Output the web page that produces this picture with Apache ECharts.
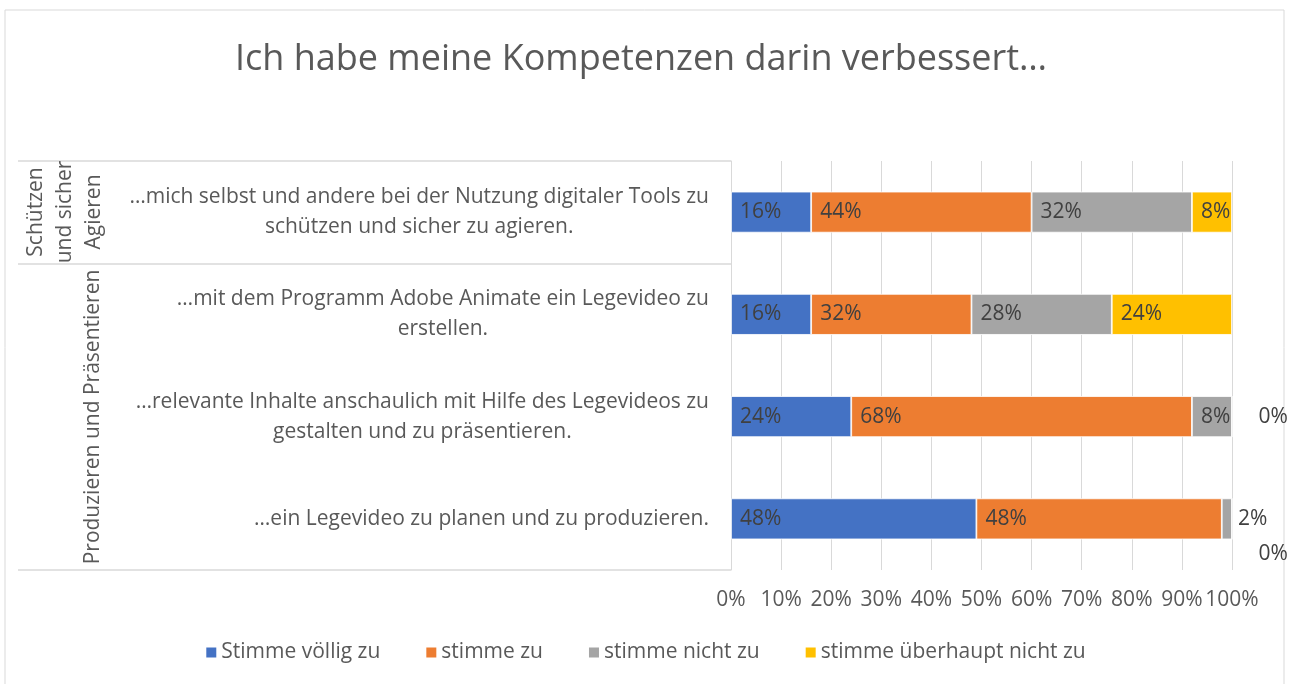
<!DOCTYPE html>
<html>
<head>
<meta charset="utf-8">
<script src="https://cdn.jsdelivr.net/npm/echarts@6/dist/echarts.min.js"></script>
<style>
  html, body { margin: 0; padding: 0; background: #fff; }
  #chart { width: 1290px; height: 684px; }
</style>
</head>
<body>
<div id="chart"></div>
<script>
// Aussagen (oben nach unten)
var statements = [
  '…mich selbst und andere bei der Nutzung digitaler Tools zu\nschützen und sicher zu agieren.',
  '…mit dem Programm Adobe Animate ein Legevideo zu\nerstellen.',
  '…relevante Inhalte anschaulich mit Hilfe des Legevideos zu\ngestalten und zu präsentieren.',
  '…ein Legevideo zu planen und zu produzieren.'
];
var groupNames = ['Schützen\nund sicher\nAgieren', 'Produzieren und Präsentieren'];
var seriesNames = ['Stimme völlig zu', 'stimme zu', 'stimme nicht zu', 'stimme überhaupt nicht zu'];
var voelligZu = [16, 16, 24, 48];
var zu = [44, 32, 68, 48];
var nichtZu = [32, 28, 8, 2];
var ueberhauptNicht = [8, 24, 0, 0];
var xTicks = [0, 100, 10];

var colors = ['#4472C4', '#ED7D31', '#A5A5A5', '#FFC000'];
var textColor = '#595959';
var font = 'Open Sans';
var fs = 21;

var raw = [voelligZu, zu, nichtZu, ueberhauptNicht];
// 100%-gestapelt wie in Excel: jede Zeile auf 100 normieren
var totals = statements.map(function (s, i) {
  return raw.reduce(function (a, arr) { return a + arr[i]; }, 0);
});

var series = raw.map(function (arr, si) {
  return {
    name: seriesNames[si],
    type: 'bar',
    stack: 'all',
    barWidth: 41,
    itemStyle: { color: colors[si], borderColor: '#fff', borderWidth: 0.8 },
    label: {
      show: true,
      position: 'insideLeft',
      distance: 9,
      color: '#404040',
      fontSize: fs,
      fontFamily: font,
      formatter: function (p) { return arr[p.dataIndex] + '%'; }
    },
    data: arr.map(function (v, i) {
      var item = { value: v / totals[i] * 100 };
      if (v === 0) {
        // vorherige Serie schon außen beschriftet -> nach unten versetzen
        var prevOut = si > 0 && raw[si - 1][i] > 0 && raw[si - 1][i] < 5;
        item.label = { position: 'right', distance: 26, offset: [0, prevOut ? 35 : 0] };
      } else if (v < 5) {
        item.label = { position: 'right', distance: 6 };
      }
      return item;
    })
  };
});

var chart = echarts.init(document.getElementById('chart'));
var option = {
  backgroundColor: '#fff',
  animation: false,
  color: colors,
  title: {
    text: 'Ich habe meine Kompetenzen darin verbessert…',
    left: 636,
    textAlign: 'center',
    top: 37,
    textStyle: { color: textColor, fontSize: 36, fontWeight: 'normal', fontFamily: font }
  },
  legend: {
    bottom: 16,
    left: 'center',
    itemWidth: 12,
    itemHeight: 12,
    itemGap: 44,
    icon: 'rect',
    textStyle: { color: textColor, fontSize: fs, fontFamily: font, padding: [0, 0, 0, -1] },
    data: seriesNames
  },
  grid: { left: 731, right: 58, top: 161, bottom: 114 },
  xAxis: {
    type: 'value',
    min: xTicks[0],
    max: xTicks[1],
    interval: xTicks[2],
    axisLine: { show: false },
    axisTick: { show: false },
    splitLine: { lineStyle: { color: '#d9d9d9', width: 1 } },
    axisLabel: { formatter: '{value}%', color: textColor, fontSize: fs, fontFamily: font, margin: 20 }
  },
  yAxis: {
    type: 'category',
    inverse: true,
    data: statements,
    axisLine: { lineStyle: { color: '#d9d9d9' } },
    axisTick: { show: false },
    axisLabel: {
      align: 'right',
      margin: 22,
      formatter: function (v) {
        return v.split('\n').map(function (l) { return '{c|' + l + '}'; }).join('\n');
      },
      rich: { c: { align: 'center', color: textColor, fontSize: fs, fontFamily: font, lineHeight: 30 } }
    }
  },
  graphic: [
    { type: 'rect', shape: { x: 5, y: 10, width: 1279, height: 690 }, style: { fill: 'none', stroke: '#d9d9d9', lineWidth: 1 }, silent: true },
    { type: 'line', shape: { x1: 18, y1: 161, x2: 731, y2: 161 }, style: { stroke: '#d9d9d9', lineWidth: 1.5 } },
    { type: 'line', shape: { x1: 18, y1: 264, x2: 731, y2: 264 }, style: { stroke: '#d9d9d9', lineWidth: 1.5 } },
    { type: 'line', shape: { x1: 18, y1: 570, x2: 731, y2: 570 }, style: { stroke: '#d9d9d9', lineWidth: 1.5 } },
    {
      type: 'text', x: 65, y: 212, rotation: Math.PI / 2,
      style: { text: groupNames[0], fill: textColor, fontSize: fs, fontFamily: font, align: 'center', verticalAlign: 'middle', lineHeight: 29 }
    },
    {
      type: 'text', x: 93, y: 417, rotation: Math.PI / 2,
      style: { text: groupNames[1], fill: textColor, fontSize: fs, fontFamily: font, align: 'center', verticalAlign: 'middle' }
    }
  ],
  series: series
};
chart.setOption(option);
window.addEventListener('resize', function () { chart.resize(); });
</script>
</body>
</html>
